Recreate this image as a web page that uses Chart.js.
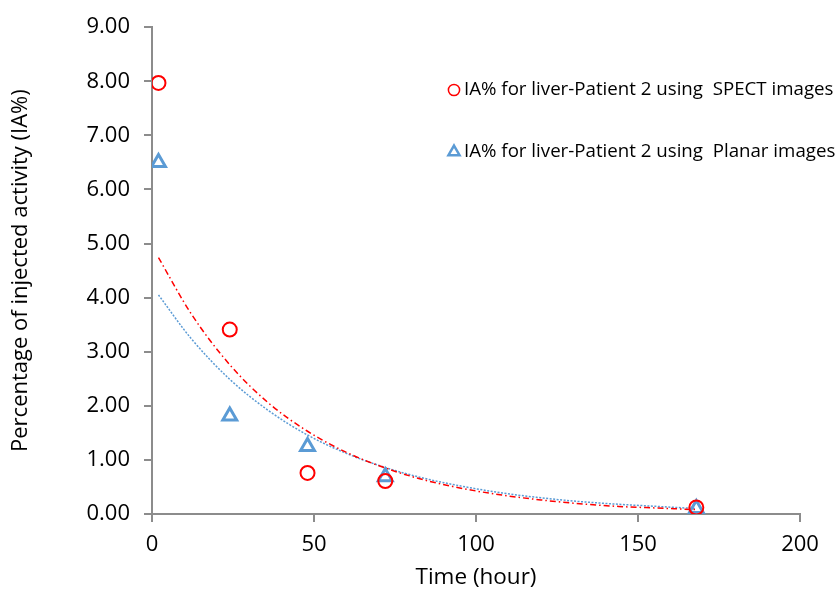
<!DOCTYPE html>
<html>
<head>
<meta charset="utf-8">
<script src="https://cdn.jsdelivr.net/npm/chart.js@4"></script>
<style>
  html, body { margin: 0; padding: 0; background: #fff; }
  #wrap { width: 840px; height: 591px; }
</style>
</head>
<body>
<div id="wrap"><canvas id="myChart"></canvas></div>
<script>
const hours = [2, 24, 48, 72, 168]
const spect = [7.97, 3.41, 0.76, 0.61, 0.12]
const planar = [6.50, 1.81, 1.25, 0.69, 0.10]

// exponential trendlines
const trendHours = [2, 12, 24, 36, 48, 60, 72, 84, 96, 108, 120, 132, 144, 156, 168]
const spectTrend = [4.74, 3.71, 2.76, 2.05, 1.53, 1.14, 0.85, 0.63, 0.47, 0.35, 0.26, 0.19, 0.14, 0.11, 0.08]
const planarTrend = [4.05, 3.25, 2.49, 1.91, 1.46, 1.12, 0.86, 0.66, 0.51, 0.39, 0.30, 0.23, 0.18, 0.14, 0.10]

const legendLabels = ["IA% for liver-Patient 2 using  SPECT images", "IA% for liver-Patient 2 using  Planar images"]

const RED = "#FF0000"
const BLUE = "#5B9BD5"
const AXIS = "#8C8C8C"
const FONT = "'Open Sans', 'Noto Sans', sans-serif"

const pts = (xs, ys) => xs.map((x, i) => ({x: x, y: ys[i]}))

// legend drawn inside the plot, right side
const insideLegend = {
    id: "insideLegend",
    afterDraw(chart) {
        const ctx = chart.ctx
        const rows = [
            {ds: chart.data.datasets[0], y: 90},
            {ds: chart.data.datasets[1], y: 152}
        ]
        ctx.save()
        rows.forEach((r, i) => {
            ctx.fillStyle = "#fff"
            ctx.strokeStyle = r.ds.borderColor
            ctx.lineWidth = r.ds.borderWidth - 0.5
            Chart.helpers.drawPoint(ctx, {
                pointStyle: r.ds.pointStyle,
                radius: r.ds.pointRadius * 0.8,
                borderWidth: r.ds.borderWidth,
                rotation: 0
            }, 454, r.y)
            ctx.fillStyle = "#000"
            ctx.font = "18.7px " + FONT
            ctx.textAlign = "left"
            ctx.textBaseline = "middle"
            ctx.fillText(legendLabels[i], 464, r.y)
        })
        ctx.restore()
    }
}

new Chart("myChart", {
    type: "scatter",
    data: {
        datasets: [{
            label: legendLabels[0],
            data: pts(hours, spect),
            pointStyle: "circle",
            pointRadius: 7,
            borderWidth: 2,
            borderColor: RED,
            backgroundColor: "rgba(255,255,255,0)",
            order: 0
        }, {
            label: legendLabels[1],
            data: pts(hours, planar),
            pointStyle: "triangle",
            pointRadius: 8,
            borderWidth: 3,
            borderColor: BLUE,
            backgroundColor: "rgba(255,255,255,0)",
            order: 0
        }, {
            label: "SPECT trend",
            data: pts(trendHours, spectTrend),
            showLine: true,
            pointRadius: 0,
            borderColor: RED,
            borderWidth: 1.5,
            borderDash: [6, 3, 1.5, 3],
            cubicInterpolationMode: "monotone",
            order: 1
        }, {
            label: "Planar trend",
            data: pts(trendHours, planarTrend),
            showLine: true,
            pointRadius: 0,
            borderColor: BLUE,
            borderWidth: 1.5,
            borderDash: [2, 1.5],
            cubicInterpolationMode: "monotone",
            order: 1
        }]
    },
    options: {
        responsive: true,
        maintainAspectRatio: false,
        animation: false,
        layout: {padding: {left: 0, top: 22, right: 40, bottom: 0}},
        plugins: {
            legend: {display: false},
            tooltip: {enabled: false}
        },
        scales: {
            x: {
                type: "linear",
                min: 0,
                max: 200,
                ticks: {stepSize: 50, color: "#000", padding: 10, font: {family: FONT, size: 22}},
                grid: {drawOnChartArea: false, drawTicks: true, tickLength: 8, color: AXIS, lineWidth: 2},
                border: {color: AXIS, width: 2},
                title: {display: true, text: "Time (hour)", color: "#000", padding: 0, font: {family: FONT, size: 22.5}},
                afterFit(scale) { scale.height = 77 }
            },
            y: {
                min: 0,
                max: 9,
                ticks: {stepSize: 1, color: "#000", padding: 14, font: {family: FONT, size: 22},
                    callback: v => v.toFixed(2)},
                grid: {drawOnChartArea: false, drawTicks: true, tickLength: 8, color: AXIS, lineWidth: 2},
                border: {color: AXIS, width: 2},
                title: {display: true, text: "Percentage of injected activity (IA%)", color: "#000",
                    padding: {top: 8, bottom: 0}, font: {family: FONT, size: 22}},
                afterFit(scale) { scale.width = 152 }
            }
        }
    },
    plugins: [insideLegend]
})
</script>
</body>
</html>
